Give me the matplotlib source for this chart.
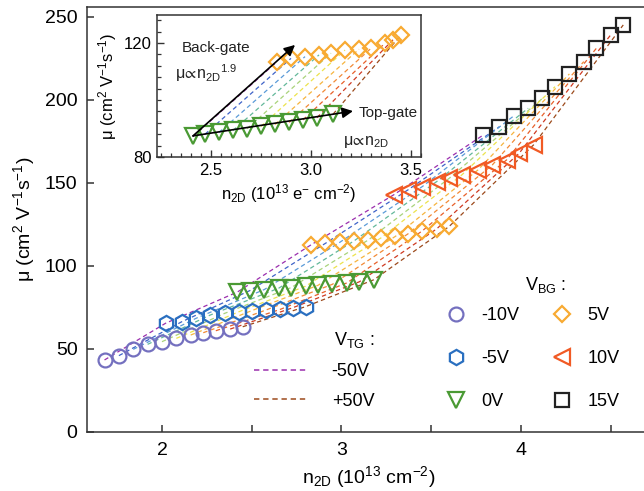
import matplotlib
matplotlib.use("Agg")
import matplotlib.pyplot as plt
from matplotlib.lines import Line2D
from matplotlib.ticker import MultipleLocator

plt.rcParams["font.family"] = ["Liberation Sans", "DejaVu Sans"]
plt.rcParams["mathtext.fontset"] = "custom"
plt.rcParams["mathtext.rm"] = "Liberation Sans"
plt.rcParams["mathtext.it"] = "Liberation Sans:italic"
plt.rcParams["mathtext.default"] = "regular"

# back-gate series (each point = one top-gate voltage, -50V ... +50V)
vbg_labels = ["-10V", "-5V", "0V", "5V", "10V", "15V"]
vtg_labels = ["-50V", "+50V"]

n_m10 = [1.68, 1.76, 1.84, 1.92, 2.00, 2.08, 2.16, 2.23, 2.30, 2.38, 2.45]
mu_m10 = [43.4, 46.0, 49.8, 52.8, 54.4, 56.4, 58.4, 59.8, 61.0, 62.0, 63.4]
n_m5 = [2.02, 2.11, 2.19, 2.27, 2.35, 2.43, 2.50, 2.58, 2.66, 2.73, 2.80]
mu_m5 = [65.5, 66.4, 68.5, 70.5, 71.5, 72.5, 73.1, 73.5, 73.9, 74.9, 75.5]
n_0 = [2.42, 2.49, 2.57, 2.65, 2.72, 2.80, 2.87, 2.95, 3.03, 3.10, 3.18]
mu_0 = [84.3, 85.2, 85.8, 86.6, 87.0, 87.8, 88.4, 89.0, 89.8, 90.5, 91.7]
n_5 = [2.83, 2.91, 2.99, 3.07, 3.15, 3.22, 3.30, 3.37, 3.45, 3.53, 3.60]
mu_5 = [112.7, 113.6, 114.2, 115.1, 115.7, 116.9, 117.8, 119.3, 121.1, 122.3, 123.8]
n_10 = [3.29, 3.37, 3.45, 3.53, 3.60, 3.67, 3.76, 3.84, 3.92, 3.99, 4.07]
mu_10 = [142.8, 145.8, 147.8, 150.8, 152.8, 154.8, 157.8, 160.8, 163.9, 167.9, 172.9]
n_15 = [3.79, 3.88, 3.96, 4.04, 4.12, 4.19, 4.27, 4.35, 4.42, 4.50, 4.57]
mu_15 = [178.9, 183.9, 190.4, 195.0, 201.0, 208.0, 215.7, 223.1, 231.1, 239.2, 245.2]

# inset: 0V and 5V back-gate vs n2D (10^13 e- cm-2)
n_in_0 = [2.41, 2.47, 2.54, 2.61, 2.68, 2.75, 2.82, 2.89, 2.96, 3.03, 3.11]
mu_in_0 = [87.2, 88.0, 88.6, 89.3, 89.9, 90.7, 91.4, 92.1, 93.0, 93.8, 95.0]
n_in_5 = [2.83, 2.90, 2.97, 3.04, 3.10, 3.17, 3.24, 3.30, 3.37, 3.41, 3.45]
mu_in_5 = [113.4, 114.6, 115.2, 115.8, 116.4, 117.5, 117.8, 118.1, 119.9, 121.1, 122.8]

vtg_colors = ["#9b2fae", "#3f63c8", "#5b9bd8", "#63b89a", "#a9d37a", "#ece34c",
              "#f6b43e", "#f28a36", "#e8602a", "#cf3a22", "#9c4a1c"]

series = [
    (n_m10, mu_m10, "o", 10, "#7470bf"),
    (n_m5, mu_m5, "h", 11, "#2a6fc0"),
    (n_0, mu_0, "v", 11.5, "#4a9a34"),
    (n_5, mu_5, "D", 8.5, "#f8aa32"),
    (n_10, mu_10, "<", 11.5, "#f15a24"),
    (n_15, mu_15, "s", 10, "#222222"),
]

fig = plt.figure(figsize=(6.44, 4.91), dpi=100)
ax = fig.add_axes([87.3 / 644, 59 / 491, (650 - 87.3) / 644, 425 / 491])

for i, c in enumerate(vtg_colors):
    xs = [s[0][i] for s in series]
    ys = [s[1][i] for s in series]
    ax.plot(xs, ys, ls=(0, (3.5, 2.5)), lw=0.9, color=c, zorder=1)

for n, mu, m, ms, c in series:
    ax.plot(n, mu, ls="none", marker=m, ms=ms, mfc="none", mec=c, mew=1.6, zorder=3)

ax.set_xlim(1.584, 4.719)
ax.set_ylim(0, 256)
ax.xaxis.set_major_locator(MultipleLocator(1))
ax.xaxis.set_minor_locator(MultipleLocator(0.5))
ax.yaxis.set_major_locator(MultipleLocator(50))
ax.tick_params(direction="in", length=5, width=1.1, labelsize=14, pad=7, color="#333333")
ax.tick_params(which="minor", direction="in", length=5, width=1.1, color="#333333")
for sp in ax.spines.values():
    sp.set_linewidth(1.1)
    sp.set_color("#333333")
ax.set_xlabel("n$_{2D}$ (10$^{13}$ cm$^{-2}$)", fontsize=14, labelpad=4)
ax.set_ylabel("μ (cm$^{2}$ V$^{-1}$s$^{-1}$)", fontsize=14, labelpad=6)

# legends
bg_handles = [Line2D([], [], ls="none", marker=m, ms=ms, mfc="none", mec=c, mew=1.6)
              for _, _, m, ms, c in series]
leg_bg = ax.legend(bg_handles, vbg_labels, ncol=2, frameon=False, fontsize=13,
                   loc="upper left", bbox_to_anchor=(442 / 644, 1 - 307 / 491),
                   bbox_transform=fig.transFigure, borderpad=0, borderaxespad=0,
                   handlelength=1.5, handletextpad=0.7, columnspacing=1.57,
                   labelspacing=1.44)
ax.add_artist(leg_bg)
fig.text(546 / 644, 1 - 285 / 491, "V$_{BG}$ :", fontsize=13, ha="center", va="center")

tg_handles = [Line2D([], [], ls=(0, (3.5, 2.5)), lw=1.1, color=vtg_colors[0]),
              Line2D([], [], ls=(0, (3.5, 2.5)), lw=1.1, color=vtg_colors[-1])]
ax.legend(tg_handles, vtg_labels, title="V$_{TG}$ :", frameon=False, fontsize=13,
          title_fontsize=13, loc="upper left", alignment="right",
          bbox_to_anchor=(254 / 644, 1 - 330 / 491), bbox_transform=fig.transFigure,
          borderpad=0, borderaxespad=0, handlelength=2.9, handletextpad=1.4,
          labelspacing=0.71)

# inset
axi = fig.add_axes([157 / 644, 1 - 157 / 491, 264 / 644, 142 / 491])
for i, c in enumerate(vtg_colors):
    axi.plot([n_in_0[i], n_in_5[i]], [mu_in_0[i], mu_in_5[i]], ls=(0, (3.5, 2.5)),
             lw=0.9, color=c, zorder=1)
axi.plot(n_in_0, mu_in_0, ls="none", marker="v", ms=11, mfc="none", mec="#4a9a34",
         mew=1.6, zorder=3)
axi.plot(n_in_5, mu_in_5, ls="none", marker="D", ms=8.5, mfc="none", mec="#f8aa32",
         mew=1.6, zorder=3)
axi.set_xlim(2.23, 3.55)
axi.set_ylim(80, 129.8)
axi.xaxis.set_major_locator(MultipleLocator(0.5))
axi.xaxis.set_minor_locator(MultipleLocator(0.05))
axi.yaxis.set_major_locator(MultipleLocator(40))
axi.yaxis.set_minor_locator(MultipleLocator(4))
axi.tick_params(direction="in", length=5, width=1.0, labelsize=12, pad=4, color="#333333")
axi.tick_params(which="minor", direction="in", length=3, width=0.9, color="#333333")
for sp in axi.spines.values():
    sp.set_linewidth(1.1)
    sp.set_color("#333333")
axi.set_xlabel("n$_{2D}$ (10$^{13}$ e$^{-}$ cm$^{-2}$)", fontsize=12, labelpad=3)
axi.set_ylabel("μ (cm$^{2}$ V$^{-1}$s$^{-1}$)", fontsize=12, labelpad=3)

arrow = dict(arrowstyle="-|>", color="black", lw=1.2, mutation_scale=16, shrinkA=0, shrinkB=0)
axi.annotate("", xy=(2.92, 119.3), xytext=(2.41, 87.4), arrowprops=arrow, zorder=4)
axi.annotate("", xy=(3.21, 96.1), xytext=(2.41, 87.4), arrowprops=arrow, zorder=4)
axi.text(2.355, 118.2, "Back-gate", fontsize=11, va="center", color="#222222")
axi.text(2.32, 109.5, "μ$\\!{\\propto}\\!$n$_{2D}$$^{1.9}$", fontsize=11.5, va="center",
         color="#222222", math_fontfamily="dejavusans")
axi.text(3.24, 95.4, "Top-gate", fontsize=11, va="center", color="#222222")
axi.text(3.16, 85.3, "μ$\\!{\\propto}\\!$n$_{2D}$", fontsize=11.5, va="center",
         color="#222222", math_fontfamily="dejavusans")

fig.savefig("out.png", dpi=100)
